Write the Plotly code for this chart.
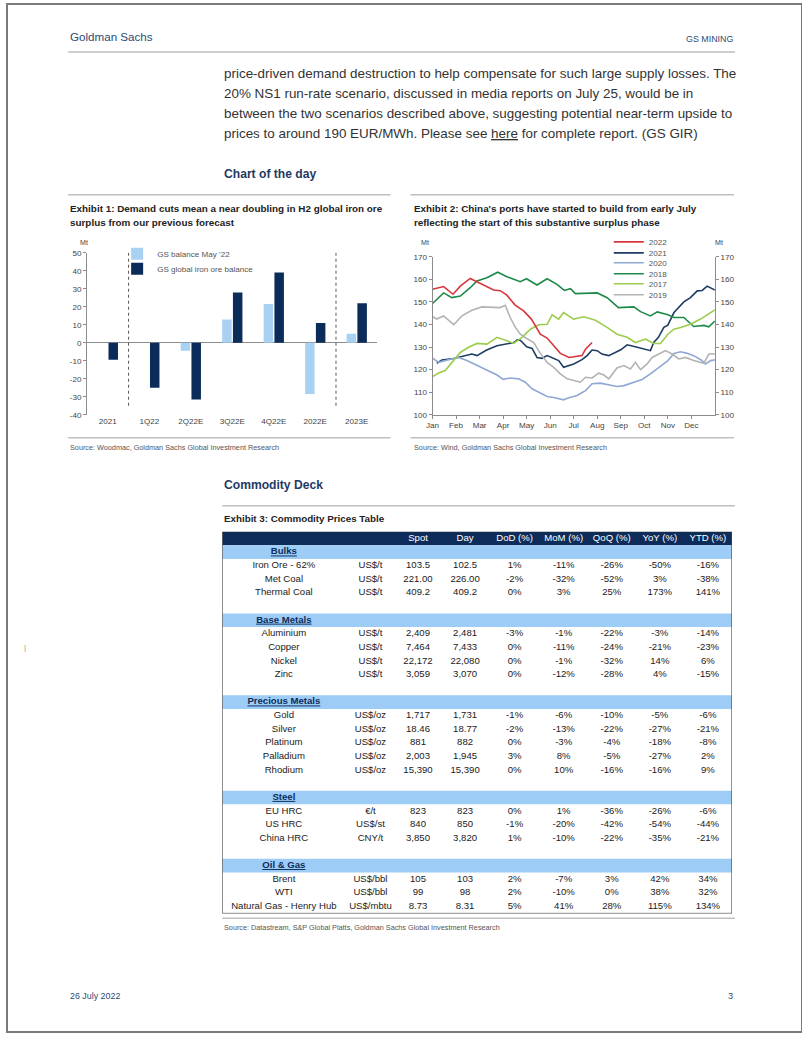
import plotly.graph_objects as go

W, H = 802, 1037
# the photographed page appears offset and slightly scaled; compensate so the
# rendered positions land where the reference shows them
OX, SX = 7.0, 0.990
OY, SY = 3.0, 0.992

def px(x):
    return ((x - OX) / SX) / W

def py(y):
    return 1 - ((y - OY) / SY) / H

def fs(s):
    return s / SX

NAVY = "#0d2c5a"
TITLE_BLUE = "#1f3a63"
SANS = "Liberation Sans, Arial, Helvetica"

# ---------------- Exhibit 1 data ----------------
periods = ["2021", "1Q22", "2Q22E", "3Q22E", "4Q22E", "2022E", "2023E"]
balance_may22 = [None, None, -4.5, 13, 21.5, -28.5, 5]
balance_global = [-9.5, -25, -31.5, 28, 39, 11, 22]
bal_ticks = [-40, -30, -20, -10, 0, 10, 20, 30, 40, 50]

# ---------------- Exhibit 2 data (x in months since 1 Jan) ----------------
month_labels = ["Jan", "Feb", "Mar", "Apr", "May", "Jun", "Jul", "Aug", "Sep", "Oct", "Nov", "Dec"]
port_ticks = [100, 110, 120, 130, 140, 150, 160, 170]

x_2022 = [0, 0.47, 0.87, 1.18, 1.6, 1.96, 2.3, 2.6, 2.88, 3.16, 3.5, 3.87, 4.2, 4.58, 4.87, 5.15, 5.43, 5.8, 6.07, 6.35, 6.5, 6.78]
y_2022 = [155.6, 156.8, 153.4, 157, 160.4, 158.5, 156.6, 155.3, 155, 153, 148.7, 146, 142.4, 135.7, 134, 130.6, 127.2, 125.4, 125.7, 126.2, 129, 132]

x_2021 = [0.18, 0.4, 0.9, 1.46, 1.67, 1.89, 2.3, 2.74, 3.16, 3.45, 3.6, 3.73, 4.0, 4.23, 4.44, 4.65, 4.87, 5.15, 5.36, 5.57, 6.0, 6.35, 6.57, 6.78, 7.0, 7.2, 7.49, 8.0, 8.27, 8.7, 8.98, 9.26, 9.4, 9.6, 9.83, 10.0, 10.26, 10.68, 10.96, 11.25, 11.46, 11.67, 12.0]
y_2021 = [122.8, 124.3, 124.9, 126.2, 126.9, 126.2, 128.7, 130.6, 131.3, 132, 133.2, 133, 130.1, 129.4, 125.4, 125, 126.2, 125, 124, 121, 122.5, 124.4, 126.2, 128.7, 128.4, 126.9, 126.2, 128.8, 131, 129.9, 129.1, 128.4, 132, 134.3, 138.7, 139.7, 145.3, 150, 151.9, 154.9, 155.1, 157, 155.3]

x_2020 = [0, 0.26, 0.68, 1.1, 1.46, 1.89, 2.31, 2.74, 3.0, 3.3, 3.66, 3.94, 4.23, 4.58, 4.87, 5.15, 5.57, 5.79, 6.14, 6.5, 6.78, 7.13, 7.49, 7.84, 8.13, 8.55, 8.91, 9.26, 9.55, 10.0, 10.26, 10.54, 10.82, 11.1, 11.4, 11.6, 11.82, 12.0]
y_2020 = [125.1, 123.2, 124.4, 125.4, 124, 121.8, 119.6, 117.6, 115.7, 116.3, 115.9, 114.4, 111.5, 109.7, 108.1, 107.6, 106.6, 107.5, 108.5, 110.7, 113.7, 114, 113.4, 112.5, 112.9, 114.4, 115.6, 118.1, 120.3, 124, 127.2, 127.9, 127.2, 126.2, 124.4, 122.5, 124, 124.3]

x_2018 = [0, 0.47, 0.82, 1.18, 1.6, 1.89, 2.31, 2.77, 3.16, 3.73, 3.99, 4.44, 4.87, 5.29, 5.6, 5.86, 6.07, 6.57, 7.0, 7.42, 7.9, 8.55, 8.84, 9.26, 9.55, 10.0, 10.26, 10.68, 11.1, 11.53, 11.74, 12.0]
y_2018 = [149.3, 154, 151.9, 152.6, 156.3, 159.3, 160.7, 163.2, 161.2, 159, 160.3, 157.5, 160.3, 157.8, 155.1, 155.9, 153.7, 153.7, 154, 151.9, 147.5, 147.8, 145.7, 143.8, 145.6, 144.3, 143.1, 143.1, 139.1, 139.6, 139, 141.5]

x_2017 = [0, 0.26, 0.54, 0.9, 1.18, 1.53, 1.89, 2.31, 2.74, 3.16, 3.45, 3.8, 4.16, 4.51, 4.87, 5.08, 5.36, 5.57, 6.0, 6.43, 6.92, 7.42, 7.84, 8.27, 8.62, 8.84, 9.05, 9.4, 9.69, 10.0, 10.26, 10.54, 10.96, 11.39, 11.74, 12.0]
y_2017 = [116.9, 118.5, 119.6, 124, 127.6, 129.9, 131.6, 131.3, 134.3, 132.8, 131.6, 134.3, 137.9, 139.9, 140.1, 144.3, 142.4, 145.3, 142.4, 143.4, 141.9, 138.7, 135.7, 134.3, 132, 132.8, 133.5, 131.6, 131.6, 135.7, 137.9, 138.7, 140.1, 142.4, 144.6, 146.5]

x_2019 = [0, 0.18, 0.47, 0.9, 1.25, 1.67, 2.1, 2.6, 2.88, 3.09, 3.3, 3.52, 3.73, 4.0, 4.3, 4.58, 4.87, 5.15, 5.43, 5.72, 6.0, 6.28, 6.5, 6.78, 7.06, 7.28, 7.49, 7.84, 8.13, 8.41, 8.62, 8.84, 9.12, 9.33, 9.62, 9.9, 10.18, 10.47, 10.75, 11.1, 11.53, 11.74, 12.0]
y_2019 = [143.4, 142.4, 143.8, 139.9, 143.8, 146.3, 147.8, 147.8, 147.5, 148.5, 143.1, 138.7, 135.7, 133.8, 132, 127.2, 123.2, 121, 118.1, 115.9, 115.1, 114.4, 116.6, 116.3, 118.4, 117.6, 115.9, 120.7, 121.8, 120.3, 123.2, 120, 122.5, 125.4, 126.9, 128.4, 126.9, 124.7, 125.4, 124, 122.8, 126.9, 126.9]

# ---------------- Exhibit 3 data ----------------
sections = ["Bulks", "Base Metals", "Precious Metals", "Steel", "Oil & Gas"]
section_sizes = [3, 4, 5, 3, 3]
commodities = ["Iron Ore - 62%", "Met Coal", "Thermal Coal",
               "Aluminium", "Copper", "Nickel", "Zinc",
               "Gold", "Silver", "Platinum", "Palladium", "Rhodium",
               "EU HRC", "US HRC", "China HRC",
               "Brent", "WTI", "Natural Gas - Henry Hub"]
units = ["US$/t", "US$/t", "US$/t",
         "US$/t", "US$/t", "US$/t", "US$/t",
         "US$/oz", "US$/oz", "US$/oz", "US$/oz", "US$/oz",
         "€/t", "US$/st", "CNY/t",
         "US$/bbl", "US$/bbl", "US$/mbtu"]
spot = ["103.5", "221.00", "409.2", "2,409", "7,464", "22,172", "3,059",
        "1,717", "18.46", "881", "2,003", "15,390", "823", "840", "3,850",
        "105", "99", "8.73"]
day = ["102.5", "226.00", "409.2", "2,481", "7,433", "22,080", "3,070",
       "1,731", "18.77", "882", "1,945", "15,390", "823", "850", "3,820",
       "103", "98", "8.31"]
dod = [1, -2, 0, -3, 0, 0, 0, -1, -2, 0, 3, 0, 0, -1, 1, 2, 2, 5]
mom = [-11, -32, 3, -1, -11, -1, -12, -6, -13, -3, 8, 10, 1, -20, -10, -7, -10, 41]
qoq = [-26, -52, 25, -22, -24, -32, -28, -10, -22, -4, -5, -16, -36, -42, -22, 3, 0, 28]
yoy = [-50, 3, 173, -3, -21, 14, 4, -5, -27, -18, -27, -16, -26, -54, -35, 42, 38, 115]
ytd = [-16, -38, 141, -14, -23, 6, -15, -6, -21, -8, 2, 9, -6, -44, -21, 34, 32, 134]
table_header = ["", "", "Spot", "Day", "DoD (%)", "MoM (%)", "QoQ (%)", "YoY (%)", "YTD (%)"]

fig = go.Figure()

# ---------- Exhibit 1: bars ----------
fig.add_trace(go.Bar(x=periods, y=balance_may22, name="GS balance May '22",
                     marker=dict(color="#a9d1f2", line=dict(width=0)),
                     xaxis="x", yaxis="y", legend="legend"))
fig.add_trace(go.Bar(x=periods, y=balance_global, name="GS global iron ore balance",
                     marker=dict(color="#0b2b59", line=dict(width=0)),
                     xaxis="x", yaxis="y", legend="legend2"))

# ---------- Exhibit 2: lines ----------
series = [
    ("2021", x_2021, y_2021, "#1d3d63", "y2", "legend4"),
    ("2020", x_2020, y_2020, "#8fa9d3", "y2", "legend5"),
    ("2018", x_2018, y_2018, "#1e8a4a", "y2", "legend6"),
    ("2017", x_2017, y_2017, "#9ccc4c", "y2", "legend7"),
    ("2019", x_2019, y_2019, "#b3b3b3", "y2", "legend8"),
    ("2022", x_2022, y_2022, "#d9363e", "y3", "legend3"),
]
for name, xs, ys, col, yax, leg in series:
    fig.add_trace(go.Scatter(x=xs, y=ys, mode="lines", name=name,
                             line=dict(color=col, width=1.6),
                             xaxis="x2", yaxis=yax, legend=leg))

# ---------- Exhibit 3: table built on its own axes ----------
col_widths = [123, 50, 45, 49, 50, 48, 48, 48, 48]
col_centers = []
acc = 0
for w in col_widths:
    col_centers.append(acc + w / 2)
    acc += w
table_w = acc

data_rows = []
for k in range(len(commodities)):
    data_rows.append([commodities[k], units[k], spot[k], day[k],
                      f"{dod[k]}%", f"{mom[k]}%", f"{qoq[k]}%", f"{yoy[k]}%", f"{ytd[k]}%"])
full_rows = [("header", table_header)]
ci = 0
for s_idx, (sec, n) in enumerate(zip(sections, section_sizes)):
    if s_idx > 0:
        full_rows.append(("blank", [""] * 9))
    full_rows.append(("section", [sec] + [""] * 8))
    for _ in range(n):
        full_rows.append(("data", data_rows[ci]))
        ci += 1
nrows = len(full_rows)

tx, ty, tt, tc = [], [], [], []
for r, (kind, cells) in enumerate(full_rows):
    for c, val in enumerate(cells):
        if val == "":
            continue
        tx.append(col_centers[c]); ty.append(r)
        if kind == "section":
            tt.append("<b><span style='text-decoration:underline'>" + val + "</span></b>")
            tc.append(NAVY)
        elif kind == "header":
            tt.append(val); tc.append("white")
        else:
            tt.append(val); tc.append("#1a1a1a")

fig.add_trace(go.Scatter(x=tx, y=ty, text=tt, mode="text", showlegend=False,
                         textposition="middle center", hoverinfo="skip",
                         textfont=dict(color=tc, size=fs(9.5), family=SANS),
                         xaxis="x4", yaxis="y4"))

tickfont = dict(size=fs(8), color="#444444", family=SANS)

fig.update_layout(
    width=W, height=H, margin=dict(l=0, r=0, t=0, b=0),
    paper_bgcolor="white", plot_bgcolor="rgba(0,0,0,0)",
    barmode="group", bargap=0.48, bargroupgap=0.12,
    showlegend=True,
    xaxis=dict(domain=[px(87), px(377)], anchor="y", type="category",
               showline=False, showgrid=False, zeroline=False, ticks="",
               tickfont=tickfont, fixedrange=True),
    yaxis=dict(domain=[py(414), py(252)], anchor="x", range=[-40, 50],
               tickvals=bal_ticks, ticktext=[str(v) for v in bal_ticks], showgrid=False,
               showline=True, linecolor="#8c8c8c", linewidth=1,
               ticks="outside", ticklen=3, tickcolor="#8c8c8c",
               zeroline=True, zerolinecolor="#8c8c8c", zerolinewidth=1,
               tickfont=tickfont),
    xaxis2=dict(domain=[px(432), px(714)], anchor="y2", range=[0, 12],
                tickvals=list(range(12)), ticktext=month_labels,
                showline=True, linecolor="#8c8c8c", linewidth=1,
                ticks="outside", ticklen=3, tickcolor="#8c8c8c",
                showgrid=False, zeroline=False, tickfont=tickfont),
    yaxis2=dict(domain=[py(414), py(256)], anchor="x2", range=[100, 170],
                tickvals=port_ticks, showgrid=False,
                showline=True, linecolor="#8c8c8c", linewidth=1,
                ticks="outside", ticklen=3, tickcolor="#8c8c8c",
                zeroline=False, tickfont=tickfont),
    yaxis3=dict(overlaying="y2", side="right", anchor="x2", range=[100, 170],
                tickvals=port_ticks, showgrid=False,
                showline=True, linecolor="#8c8c8c", linewidth=1,
                ticks="outside", ticklen=3, tickcolor="#8c8c8c",
                zeroline=False, tickfont=tickfont),
    xaxis4=dict(domain=[px(222), px(731)], anchor="y4", range=[0, table_w],
                visible=False, fixedrange=True),
    yaxis4=dict(domain=[py(913), py(531)], anchor="x4", range=[nrows - 0.5, -0.5],
                visible=False, fixedrange=True),
)

legfont = dict(size=fs(8), color="#555555", family=SANS)
def leg(xp, yp):
    return dict(x=px(xp), y=py(yp), xanchor="left", yanchor="middle",
                bgcolor="rgba(0,0,0,0)", font=legfont, borderwidth=0,
                itemwidth=30, tracegroupgap=0)

fig.update_layout(
    legend=leg(117, 253), legend2=leg(117, 268),
    legend3=leg(608, 241), legend4=leg(608, 252), legend5=leg(608, 262),
    legend6=leg(608, 273), legend7=leg(608, 283), legend8=leg(608, 294),
)

# ---------- shapes ----------
shapes = []
shapes.append(dict(type="rect", xref="paper", yref="paper", x0=0, x1=1, y0=0, y1=1,
                   line=dict(color="#7a7a7a", width=2)))
def hline(x0, x1, y, color="#bfbfbf", w=1.5):
    shapes.append(dict(type="line", xref="paper", yref="paper",
                       x0=px(x0), x1=px(x1), y0=py(y), y1=py(y),
                       line=dict(color=color, width=w)))
hline(68, 734, 51)
hline(68, 390, 194)
hline(410, 733, 194)
hline(68, 390, 437)
hline(410, 733, 437)
hline(222, 734, 505)
hline(222, 734, 918)
for xb in [0.5, 5.5]:
    shapes.append(dict(type="line", xref="x", yref="y", x0=xb, x1=xb, y0=-35, y1=51,
                       line=dict(color="#555555", width=1, dash="dot")))
for r, (kind, cells) in enumerate(full_rows):
    if kind in ("header", "section"):
        shapes.append(dict(type="rect", xref="x4", yref="y4", layer="below",
                           x0=0, x1=table_w, y0=r - 0.5, y1=r + 0.5,
                           fillcolor=NAVY if kind == "header" else "#9dcdf7",
                           line=dict(width=0)))
shapes.append(dict(type="rect", xref="x4", yref="y4",
                   x0=0, x1=table_w, y0=-0.5, y1=nrows - 0.5,
                   line=dict(color="#333333", width=1)))
fig.update_layout(shapes=shapes)

# ---------- text ----------
ann = []
def text(x, y, s, size, color="#333333", family=SANS, anchor="left"):
    ann.append(dict(xref="paper", yref="paper", x=px(x), y=py(y), text=s,
                    showarrow=False, xanchor=anchor, yanchor="middle",
                    font=dict(size=fs(size), color=color, family=family)))

text(68, 36, "Goldman Sachs", 11.5, "#2c4a72")
text(734, 38, "GS MINING", 8.8, "#2c4a72", anchor="right")
para = [
    "price-driven demand destruction to help compensate for such large supply losses. The",
    "20% NS1 run-rate scenario, discussed in media reports on July 25, would be in",
    "between the two scenarios described above, suggesting potential near-term upside to",
    "prices to around 190 EUR/MWh. Please see <span style='text-decoration:underline'>here</span> for complete report. (GS GIR)",
]
for k, line in enumerate(para):
    text(222, 73 + 20 * k, line, 13.3, "#333333")

text(222, 173, "<b>Chart of the day</b>", 12, TITLE_BLUE)
text(68, 208, "<b>Exhibit 1: Demand cuts mean a near doubling in H2 global iron ore</b>", 9.8, "#222222")
text(68, 222, "<b>surplus from our previous forecast</b>", 9.8, "#222222")
text(411, 208, "<b>Exhibit 2: China's ports have started to build from early July</b>", 9.8, "#222222")
text(411, 222, "<b>reflecting the start of this substantive surplus phase</b>", 9.8, "#222222")
text(78, 242, "Mt", 7, "#444444")
text(418, 242, "Mt", 7, "#444444")
text(712, 242, "Mt", 7, "#444444")
text(68, 447, "Source: Woodmac, Goldman Sachs Global Investment Research", 7.2, "#555555")
text(411, 447, "Source: Wind, Goldman Sachs Global Investment Research", 7.2, "#555555")
text(222, 484, "<b>Commodity Deck</b>", 12, TITLE_BLUE)
text(222, 518, "<b>Exhibit 3: Commodity Prices Table</b>", 9.7, "#222222")
text(222, 927, "Source: Datastream, S&P Global Platts, Goldman Sachs Global Investment Research", 7.2, "#555555")
text(68, 996, "26 July 2022", 8.8, "#2c4a72")
text(734, 996, "3", 9, "#2c4a72", anchor="right")
text(22, 647, "|", 8, "#999999")
fig.update_layout(annotations=ann)

fig.write_html("out.html",
               config={"displayModeBar": False},
               post_script="document.body.style.margin='0';"
                           "document.body.style.overflow='hidden';"
                           "document.documentElement.style.overflow='hidden';")
